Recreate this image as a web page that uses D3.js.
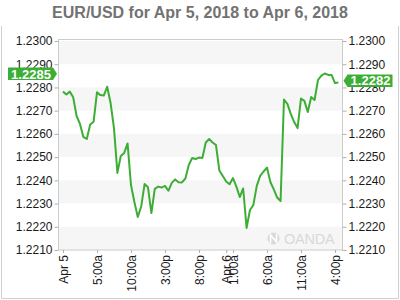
<!DOCTYPE html>
<html>
<head>
<meta charset="utf-8">
<script src="https://cdn.jsdelivr.net/npm/d3@7/dist/d3.min.js"></script>
<style>
  body { margin: 0; background: #fff; }
  svg { display: block; font-family: "Liberation Sans", Arial, sans-serif; }
</style>
</head>
<body>
<div id="chart"></div>
<script>
// EUR/USD, half-hour closes from Apr 5 2018 00:00
var startTime = new Date(2018, 3, 5, 0, 0);
var stepMinutes = 30;
var prices = [
  1.22782, 1.22770, 1.22782, 1.22758, 1.22677, 1.22643, 1.22587, 1.22578, 1.22640, 1.22652,
  1.22779, 1.22767, 1.22765, 1.22803, 1.22733, 1.22625, 1.22432, 1.22505, 1.22518, 1.22559,
  1.22380, 1.22307, 1.22242, 1.22287, 1.22384, 1.22370, 1.22259, 1.22363, 1.22373, 1.22369,
  1.22376, 1.22355, 1.22389, 1.22404, 1.22392, 1.22391, 1.22408, 1.22466, 1.22496, 1.22492,
  1.22498, 1.22496, 1.22563, 1.22578, 1.22563, 1.22552, 1.22442, 1.22419, 1.22395, 1.22383,
  1.22410, 1.22373, 1.22328, 1.22365, 1.22195, 1.22272, 1.22294, 1.22376, 1.22419, 1.22438,
  1.22455, 1.22393, 1.22361, 1.22326, 1.22311, 1.22748, 1.22729, 1.22686, 1.22651, 1.22625,
  1.22752, 1.22742, 1.22694, 1.22759, 1.22746, 1.22832, 1.22851, 1.22860, 1.22854, 1.22854,
  1.22819, 1.22821
];

var yTicks = [1.2210, 1.2220, 1.2230, 1.2240, 1.2250, 1.2260, 1.2270, 1.2280, 1.2290, 1.2300];
var xTickTimes = [
  new Date(2018, 3, 5, 0), new Date(2018, 3, 5, 5), new Date(2018, 3, 5, 10),
  new Date(2018, 3, 5, 15), new Date(2018, 3, 5, 20), new Date(2018, 3, 6, 0),
  new Date(2018, 3, 6, 1), new Date(2018, 3, 6, 6), new Date(2018, 3, 6, 11),
  new Date(2018, 3, 6, 16)
];
var xTickLabels = ["Apr 5", "5:00a", "10:00a", "3:00p", "8:00p", "Apr 6", "1:00a", "6:00a", "11:00a", "4:00p"];

var openPrice = 1.2285;   // left badge
var lastPrice = 1.2282;   // right badge

var width = 400, height = 300;
var plot = {left: 58, right: 342, top: 40, bottom: 250};
var green = "#3dae35";

var data = prices.map(function(p, i) {
  return {t: new Date(startTime.getTime() + i * stepMinutes * 60000), v: p};
});

var x = d3.scaleTime()
  .domain([new Date(2018, 3, 4, 23, 16), new Date(2018, 3, 6, 17, 2)])
  .range([plot.left, plot.right]);

var y = d3.scaleLinear()
  .domain([1.2210, 1.2300])
  .range([plot.bottom, plot.top + 1]);

var svg = d3.select("#chart").append("svg")
  .attr("width", width)
  .attr("height", height);

// outer frame
svg.append("path")
  .attr("d", "M1.5,26 V298.5 H398.5 V26")
  .attr("fill", "none")
  .attr("stroke", "#d0d0d0");

// title
svg.append("text")
  .attr("x", 200)
  .attr("y", 17.5)
  .attr("text-anchor", "middle")
  .attr("font-size", 16)
  .attr("font-weight", "bold")
  .attr("fill", "#727272")
  .text("EUR/USD for Apr 5, 2018 to Apr 6, 2018");

// alternating bands
var bands = [];
for (var i = 0; i < yTicks.length - 1; i += 2) bands.push([yTicks[i], yTicks[i + 1]]);
svg.append("g").selectAll("rect")
  .data(bands)
  .enter().append("rect")
  .attr("x", plot.left)
  .attr("width", plot.right - plot.left)
  .attr("y", function(d) { return y(d[1]); })
  .attr("height", function(d) { return y(d[0]) - y(d[1]); })
  .attr("fill", "#f6f6f6");

// watermark
var wm = svg.append("g").attr("fill", "#d9d9d9");
wm.append("circle").attr("cx", 273.5).attr("cy", 238.5).attr("r", 6);
wm.append("path")
  .attr("d", "M270.5,243 V235 L276.5,242 V234")
  .attr("fill", "none")
  .attr("stroke", "#fff")
  .attr("stroke-width", 1.6);
wm.append("text")
  .attr("x", 284)
  .attr("y", 244)
  .attr("font-size", 14.5)
  .attr("letter-spacing", "-0.2")
  .text("OANDA");

// plot frame
svg.append("rect")
  .attr("x", plot.left + 0.5)
  .attr("y", plot.top - 0.5)
  .attr("width", plot.right - plot.left)
  .attr("height", plot.bottom - plot.top + 0.5)
  .attr("fill", "none")
  .attr("stroke", "#cccccc");

// y axes
var yLeft = d3.axisLeft(y).tickValues(yTicks).tickFormat(d3.format(".4f")).tickSize(4).tickPadding(2);
var yRight = d3.axisRight(y).tickValues(yTicks).tickFormat(d3.format(".4f")).tickSize(4).tickPadding(2);

function styleAxis(g) {
  g.select(".domain").remove();
  g.selectAll(".tick line").attr("stroke", "#b0b0b0");
  g.selectAll(".tick text").attr("fill", "#1a1a1a").attr("font-size", 12)
    .attr("font-family", "'Liberation Sans', Arial, sans-serif");
}

svg.append("g")
  .attr("transform", "translate(" + (plot.left + 0.5) + ",0)")
  .call(yLeft)
  .call(styleAxis);

svg.append("g")
  .attr("transform", "translate(" + (plot.right + 0.5) + ",0)")
  .call(yRight)
  .call(styleAxis);

// x axis
var xAxis = d3.axisBottom(x)
  .tickValues(xTickTimes)
  .tickFormat(function(d, i) { return xTickLabels[i]; })
  .tickSize(3)
  .tickPadding(2);

var gx = svg.append("g")
  .attr("transform", "translate(0," + plot.bottom + ")")
  .call(xAxis)
  .call(styleAxis);

gx.selectAll(".tick text")
  .attr("transform", "rotate(-90)")
  .attr("text-anchor", "end")
  .attr("x", -5)
  .attr("y", 0)
  .attr("dy", "0.35em");

// price line
var line = d3.line()
  .x(function(d) { return x(d.t); })
  .y(function(d) { return y(d.v); });

svg.append("path")
  .datum(data)
  .attr("d", line)
  .attr("fill", "none")
  .attr("stroke", green)
  .attr("stroke-width", 2)
  .attr("stroke-linejoin", "round");

// price badges
function badge(value, side) {
  var cy = y(value) - 2;
  var h = 12.5, w = 45, tip = 4;
  var g = svg.append("g");
  var p;
  if (side === "left") {
    var x0 = plot.left - 50, x1 = x0 + w;
    p = "M" + x0 + "," + (cy - h / 2) + " H" + x1 + " L" + (x1 + tip) + "," + cy +
        " L" + x1 + "," + (cy + h / 2) + " H" + x0 + " Z";
  } else {
    var a = plot.right + 1.5, b = a + tip;
    p = "M" + a + "," + cy + " L" + b + "," + (cy - h / 2) + " H" + (b + w) +
        " V" + (cy + h / 2) + " H" + b + " Z";
  }
  g.append("path").attr("d", p).attr("fill", green);
  g.append("text")
    .attr("x", side === "left" ? plot.left - 27 : plot.right + 28.5)
    .attr("y", cy)
    .attr("dy", "0.36em")
    .attr("text-anchor", "middle")
    .attr("font-size", 13)
    .attr("font-weight", "bold")
    .attr("fill", "#fff")
    .text(d3.format(".4f")(value));
}

badge(openPrice, "left");
badge(lastPrice, "right");
</script>
</body>
</html>
